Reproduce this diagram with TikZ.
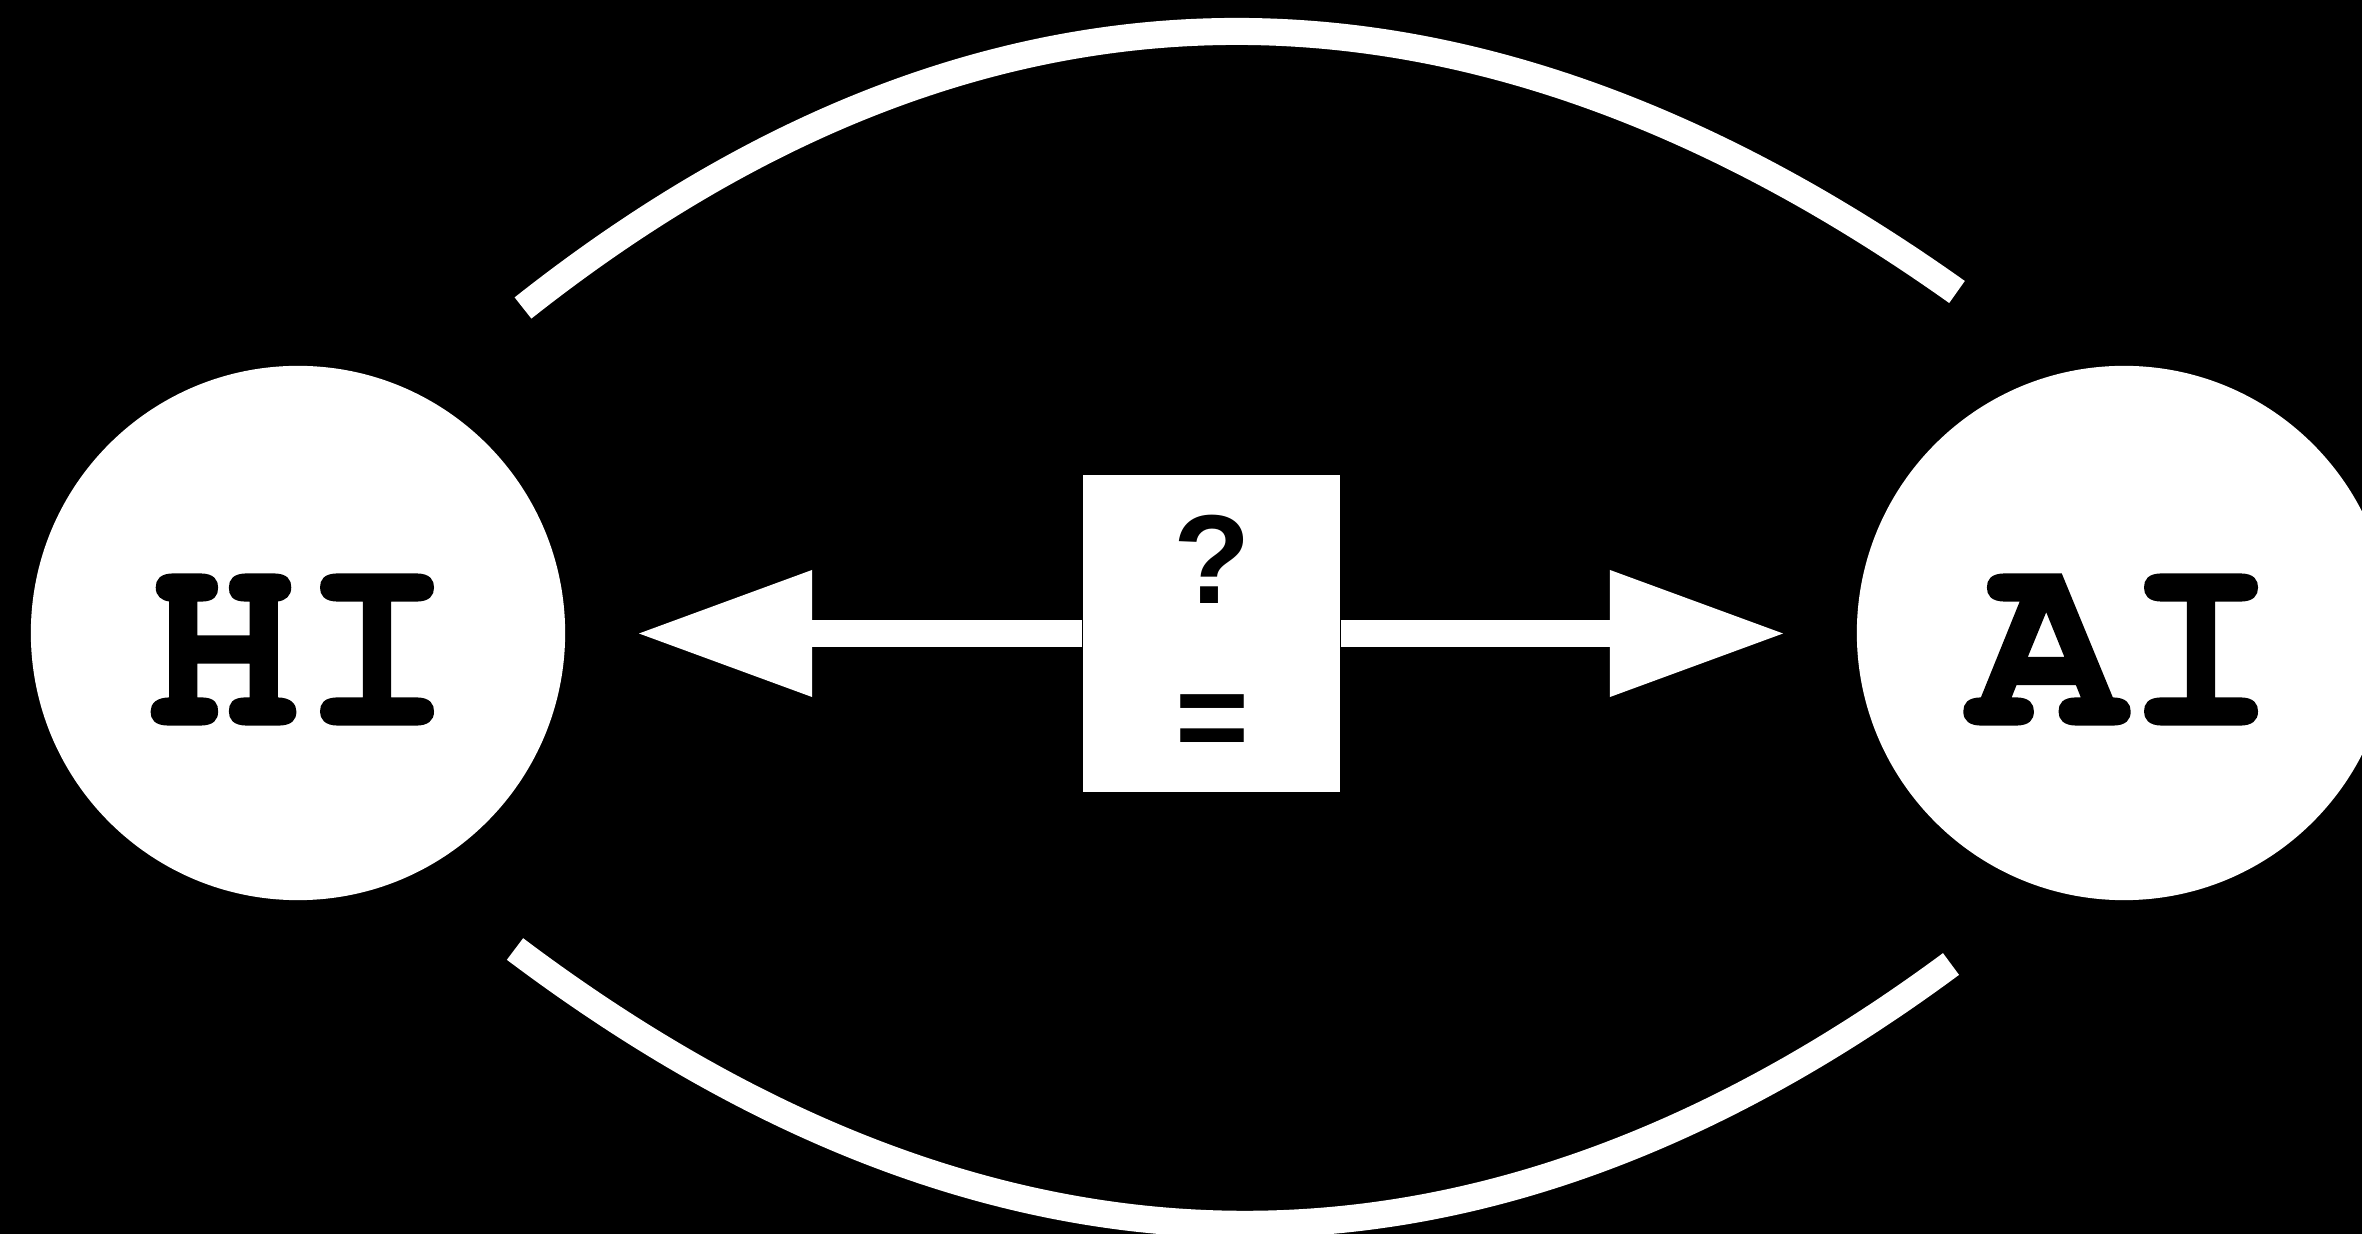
\documentclass[tikz,border=0pt]{standalone}
\usepackage{fontspec}
\usetikzlibrary{arrows.meta}
\newfontfamily\labelmono{TeX Gyre Cursor}[BoldFeatures={FakeBold=1}]
\newfontfamily\labelsans{Liberation Sans}
\begin{document}
\begin{tikzpicture}[x=0.01cm,y=-0.01cm,
  ball/.style={circle,fill=white,minimum size=5.34cm,inner sep=0pt},
  bigtext/.style={font=\labelmono\bfseries\fontsize{73}{73}\selectfont,text=black,inner sep=0pt},
  symtext/.style={font=\labelsans\bfseries\fontsize{36}{36}\selectfont,text=black,inner sep=0pt},
  midbox/.style={rectangle,fill=white,minimum width=2.57cm,minimum height=3.17cm,inner sep=0pt},
  arcline/.style={white,line width=0.27cm},
  arr/.style={white,line width=0.27cm,-{Triangle[length=1.73cm,width=1.27cm,line width=0pt]}}]
\fill[black] (0,0) rectangle (2362,1234);
\useasboundingbox (0,0) rectangle (2362,1234);
\begin{scope}
\clip (0,0) rectangle (2362,1234);
% curves
\coordinate (tl) at (523,308);
\coordinate (tr) at (1957,292);
\draw[arcline] (tl) .. controls (982,-55) and (1460,-61) .. (tr);
\coordinate (bl) at (515,949);
\coordinate (br) at (1951,964);
\draw[arcline] (bl) .. controls (996,1311) and (1475,1316) .. (br);
% circles
\node[ball] (hi) at (298,633) {};
\node[bigtext] (hilabel) at (300,649.5) {HI};
\node[ball] (ai) at (2124,633) {};
\node[bigtext] (ailabel) at (2124,649.5) {AI};
% centre
\node[midbox] (mid) at (1211.5,633.5) {};
\coordinate (ltip) at (639,633.5);
\coordinate (rtip) at (1783,633.5);
\draw[arr] (mid.west) -- (ltip);
\draw[arr] (mid.east) -- (rtip);
\node[symtext] (q) at (1212,559) {?};
\node[symtext] (eq) at (1212,728) {=};
\end{scope}
\end{tikzpicture}
\end{document}
